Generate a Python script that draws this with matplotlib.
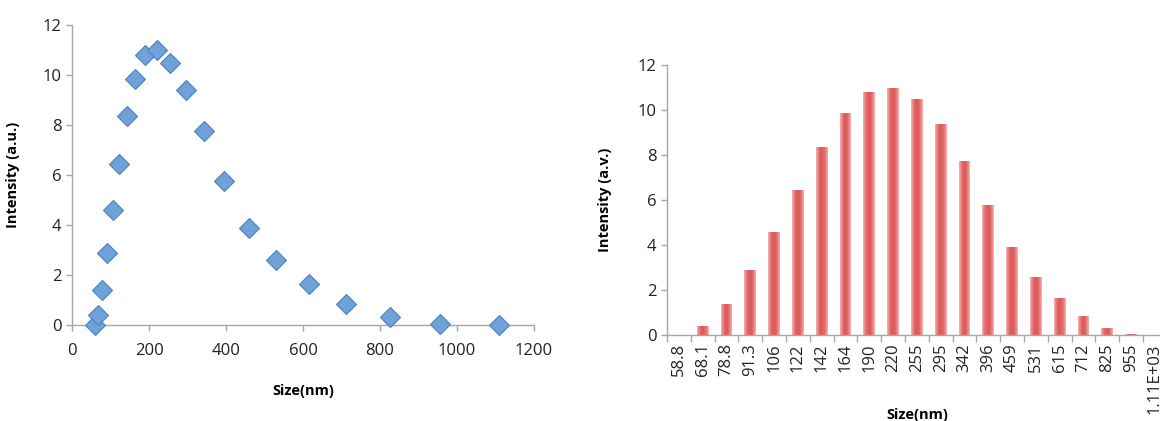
import matplotlib
matplotlib.use("Agg")
import matplotlib.pyplot as plt
import numpy as np

plt.rcParams['font.family'] = ['Open Sans', 'DejaVu Sans']

# data
sizes = [58.8, 68.1, 78.8, 91.3, 106, 122, 142, 164, 190, 220, 255, 295,
         342, 396, 459, 531, 615, 712, 825, 955, 1110]
size_labels = ["58.8", "68.1", "78.8", "91.3", "106", "122", "142", "164", "190",
               "220", "255", "295", "342", "396", "459", "531", "615", "712",
               "825", "955", "1.11E+03"]
intensity = [0.0, 0.4, 1.4, 2.9, 4.6, 6.45, 8.35, 9.85, 10.8, 11.0, 10.5, 9.4,
             7.75, 5.78, 3.9, 2.6, 1.63, 0.83, 0.32, 0.05, 0.0]
left_xticks = [0, 200, 400, 600, 800, 1000, 1200]
yticks = [0, 2, 4, 6, 8, 10, 12]

W, H = 1160, 421
fig = plt.figure(figsize=(W / 100, H / 100), dpi=100)
grey = '#A6A6A6'
tick_color = '#222222'

def style(ax):
    for s in ['top', 'right']:
        ax.spines[s].set_visible(False)
    for s in ['left', 'bottom']:
        ax.spines[s].set_color(grey)
        ax.spines[s].set_linewidth(1.0)
    ax.tick_params(colors=grey, labelcolor=tick_color, length=4, width=1.0,
                   labelsize=12)

# left scatter
ax1 = fig.add_axes([72 / W, 1 - 325 / H, (534 - 72) / W, 300 / H])
ax1.plot(sizes, intensity, linestyle='none', marker='D', markersize=10.5,
         markerfacecolor='#6FA2D8', markeredgecolor='#4F81BD',
         markeredgewidth=0.8, clip_on=False, zorder=3)
ax1.set_xlim(0, 1200)
ax1.set_ylim(0, 12)
ax1.set_xticks(left_xticks)
ax1.set_yticks(yticks)
style(ax1)
ax1.tick_params(axis='x', pad=9)
ax1.set_xlabel('Size(nm)', fontsize=10.5, fontweight='bold')
ax1.xaxis.set_label_coords(0.5, (325 - 384) / 300)
ax1.set_ylabel('Intensity (a.u.)', fontsize=10.5, fontweight='bold')
ax1.yaxis.set_label_coords(-(72 - 20) / 462, 0.5)

# right bar chart
ax2 = fig.add_axes([667 / W, 1 - 335 / H, 21 * 23.8 / W, 270 / H])
x = np.arange(len(size_labels))
cols = ['#F2A8A8', '#EC9090', '#E77A7A', '#E36868', '#DF5C5C']
widths = [0.50, 0.42, 0.33, 0.24, 0.14]
for c, w in zip(cols, widths):
    ax2.bar(x, intensity, width=w, color=c, linewidth=0, zorder=2)
ax2.set_xlim(-0.5, len(size_labels) - 0.5)
ax2.set_ylim(0, 12)
ax2.set_yticks(yticks)
ax2.set_xticks(x)
ax2.set_xticklabels(size_labels, rotation=90)
ax2.set_xticks(np.arange(-0.5, len(size_labels), 1.0), minor=True)
style(ax2)
ax2.tick_params(axis='x', which='major', length=0, pad=6)
ax2.tick_params(axis='x', which='minor', length=5, width=1.0, color=grey)
ax2.set_xlabel('Size(nm)', fontsize=10.5, fontweight='bold')
ax2.xaxis.set_label_coords(0.5, (335 - 408) / 270)
ax2.set_ylabel('Intensity (a.v.)', fontsize=10.5, fontweight='bold')
ax2.yaxis.set_label_coords(-(667 - 612) / 500, 0.5)

fig.savefig('out.png', dpi=100, facecolor='white')
